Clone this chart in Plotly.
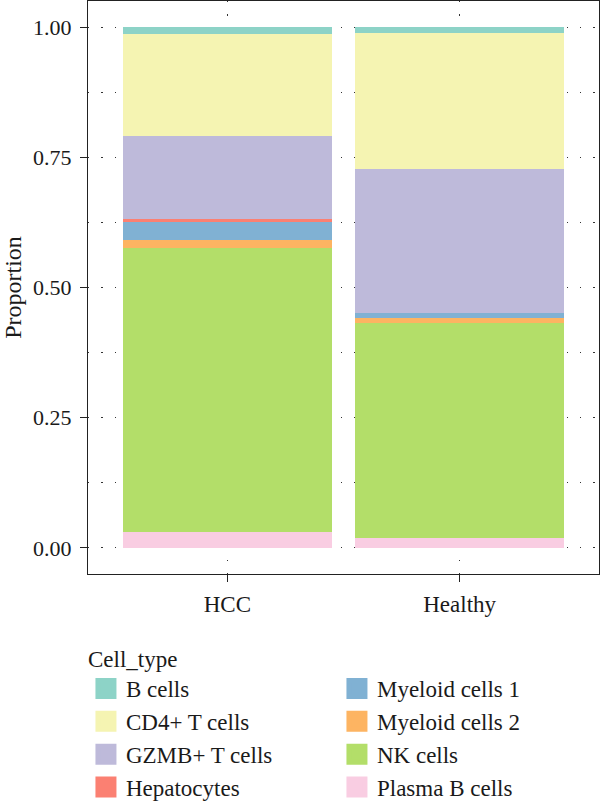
import plotly.graph_objects as go

groups = ["HCC", "Healthy"]
cell_types = ["B cells", "CD4+ T cells", "GZMB+ T cells", "Hepatocytes",
              "Myeloid cells 1", "Myeloid cells 2", "NK cells", "Plasma B cells"]
colors = ["#8DD3C7", "#F5F4B2", "#BEBADA", "#FB8072",
          "#80B1D3", "#FDB462", "#B3DE69", "#F9CDE2"]
# proportions per cell type: [HCC, Healthy]
b_cells = [0.0134, 0.0115]
cd4_t = [0.1948, 0.2619]
gzmb_t = [0.1610, 0.2761]
hepatocytes = [0.0038, 0.0]
myeloid1 = [0.0351, 0.0090]
myeloid2 = [0.0153, 0.0088]
nk_cells = [0.5464, 0.4141]
plasma_b = [0.0300, 0.0186]
values = [b_cells, cd4_t, gzmb_t, hepatocytes, myeloid1, myeloid2, nk_cells, plasma_b]
legend_rank = [1, 3, 5, 7, 2, 4, 6, 8]

FONT = "Liberation Serif"
fig = go.Figure()
# stack bottom to top: Plasma B first
for i in reversed(range(len(cell_types))):
    fig.add_trace(go.Bar(x=groups, y=values[i], name=cell_types[i],
                         marker=dict(color=colors[i], line=dict(width=0)),
                         showlegend=False, width=0.9))
for i in range(len(cell_types)):
    fig.add_trace(go.Scatter(x=[None], y=[None], mode="markers", name=cell_types[i],
                             marker=dict(symbol="square", size=16, color=colors[i],
                                         line=dict(color=colors[i], width=5)),
                             legendrank=legend_rank[i], showlegend=True))

grid = dict(showgrid=True, gridcolor="#333333", gridwidth=1, griddash="1.3px,12px")
fig.update_layout(
    barmode="stack",
    width=600, height=804,
    margin=dict(l=88, r=1, t=1, b=230, autoexpand=False),
    plot_bgcolor="white", paper_bgcolor="white",
    font=dict(family=FONT, size=21, color="#1a1a1a"),
    xaxis=dict(range=[-0.6, 1.6], showline=True, mirror=True, linecolor="#222222",
               linewidth=1.3, ticks="outside", ticklen=7, tickwidth=1.3, tickcolor="#222222",
               zeroline=False, tickfont=dict(size=23), ticklabelstandoff=2, **grid),
    yaxis=dict(range=[-0.05, 1.05], showline=True, mirror=True, linecolor="#222222",
               linewidth=1.3, ticks="outside", ticklen=7, tickwidth=1.3, tickcolor="#222222",
               tickvals=[0, 0.25, 0.5, 0.75, 1.0], tickformat=".2f", zeroline=False,
               tickfont=dict(size=22), ticklabelstandoff=4,
               title=dict(text="Proportion", font=dict(size=24), standoff=8),
               minor=dict(tickvals=[0.125, 0.375, 0.625, 0.875], showgrid=True,
                          gridcolor="#333333", gridwidth=1, griddash="1.3px,12px"),
               **grid),
    legend=dict(orientation="h", x=-0.004, xanchor="left", y=-0.11, yanchor="top",
                entrywidth=206, entrywidthmode="pixels", traceorder="normal",
                title=dict(text="Cell_type", side="top", font=dict(size=23)),
                font=dict(size=23), itemsizing="trace"),
)
fig.write_html("out.html")
